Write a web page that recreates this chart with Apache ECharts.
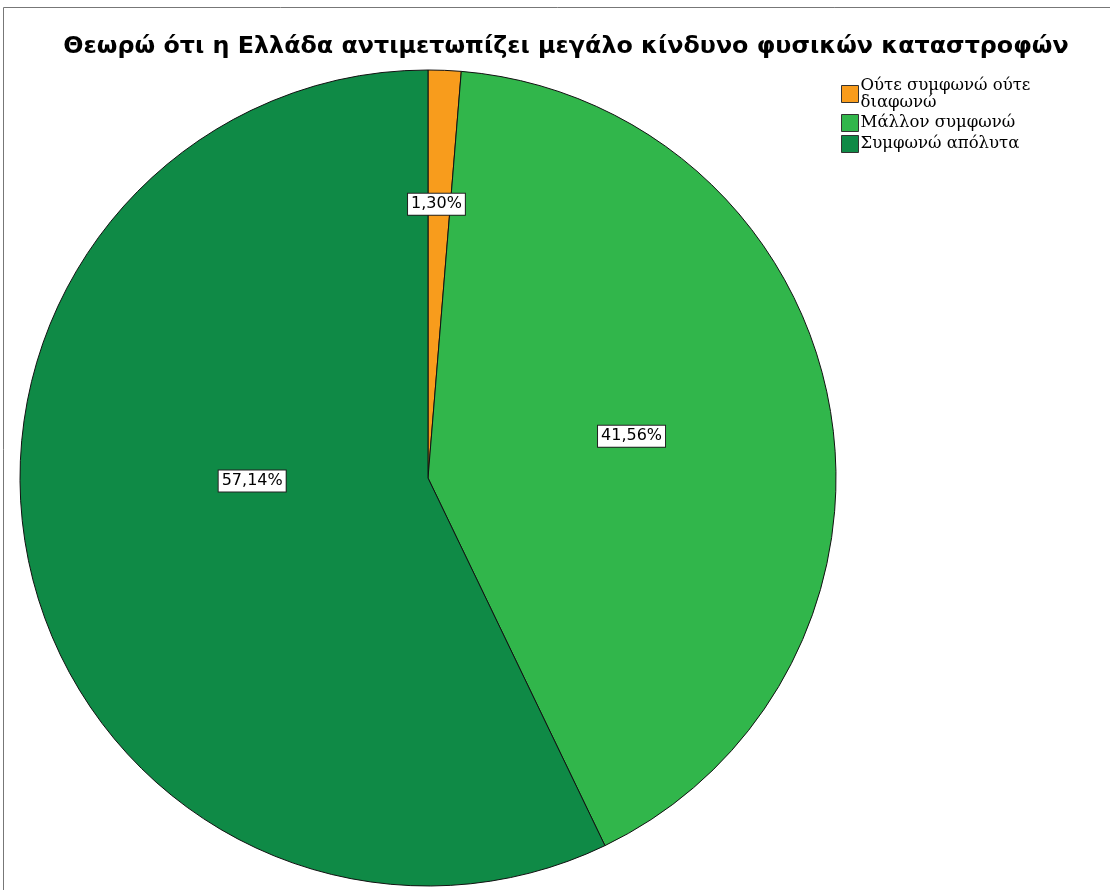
<!DOCTYPE html>
<html>
<head>
<meta charset="utf-8">
<script src="https://cdn.jsdelivr.net/npm/echarts@6/dist/echarts.min.js"></script>
<style>
  html, body { margin: 0; padding: 0; background: #fff; }
  #chart { width: 1110px; height: 890px; }
</style>
</head>
<body>
<div id="chart"></div>
<script>
var titleText = 'Θεωρώ ότι η Ελλάδα αντιμετωπίζει μεγάλο κίνδυνο φυσικών καταστροφών';
var categories = ['Ούτε συμφωνώ ούτε διαφωνώ', 'Μάλλον συμφωνώ', 'Συμφωνώ απόλυτα'];
var percents = [1.30, 41.56, 57.14];
var colors = ['#f89c1c', '#31b64b', '#0f8a46'];
// nudges so the boxes sit where the original put them
var labelOffsets = [[0, -67], [0, -4], [26, -43]];

var myChart = echarts.init(document.getElementById('chart'));

var data = categories.map(function (name, i) {
    return {
        name: name,
        value: percents[i],
        itemStyle: { color: colors[i] },
        label: { offset: labelOffsets[i] }
    };
});

var option = {
    animation: false,
    graphic: [{
        type: 'rect',
        shape: { x: 3.5, y: 7.5, width: 1120, height: 900 },
        style: { fill: 'none', stroke: '#777', lineWidth: 1 },
        silent: true
    }],
    title: {
        text: titleText,
        left: 561,
        top: 30,
        textAlign: 'center',
        textStyle: {
            fontFamily: 'DejaVu Sans',
            fontWeight: 'bold',
            fontSize: 23.8,
            color: '#000'
        }
    },
    legend: {
        orient: 'vertical',
        left: 836,
        top: 72,
        itemWidth: 17,
        itemHeight: 17,
        itemGap: 3,
        icon: 'rect',
        itemStyle: { borderColor: '#333', borderWidth: 1 },
        formatter: function (name) {
            return name === categories[0] ? 'Ούτε συμφωνώ ούτε\nδιαφωνώ' : name;
        },
        textStyle: {
            fontFamily: 'DejaVu Serif',
            fontSize: 16.5,
            lineHeight: 17,
            color: '#000',
            padding: [0, 0, 0, -3]
        },
        data: categories
    },
    series: [{
        type: 'pie',
        center: [428, 478],
        radius: 408,
        startAngle: 90,
        clockwise: true,
        emphasis: { disabled: true },
        itemStyle: { borderColor: '#111', borderWidth: 1 },
        label: {
            position: 'inside',
            formatter: function (p) {
                return p.value.toFixed(2).replace('.', ',') + '%';
            },
            fontFamily: 'DejaVu Sans',
            fontSize: 16,
            color: '#000',
            backgroundColor: '#fff',
            borderColor: '#222',
            borderWidth: 1,
            padding: [3, 3, 2, 3]
        },
        labelLine: { show: false },
        data: data
    }]
};
myChart.setOption(option);
</script>
</body>
</html>
